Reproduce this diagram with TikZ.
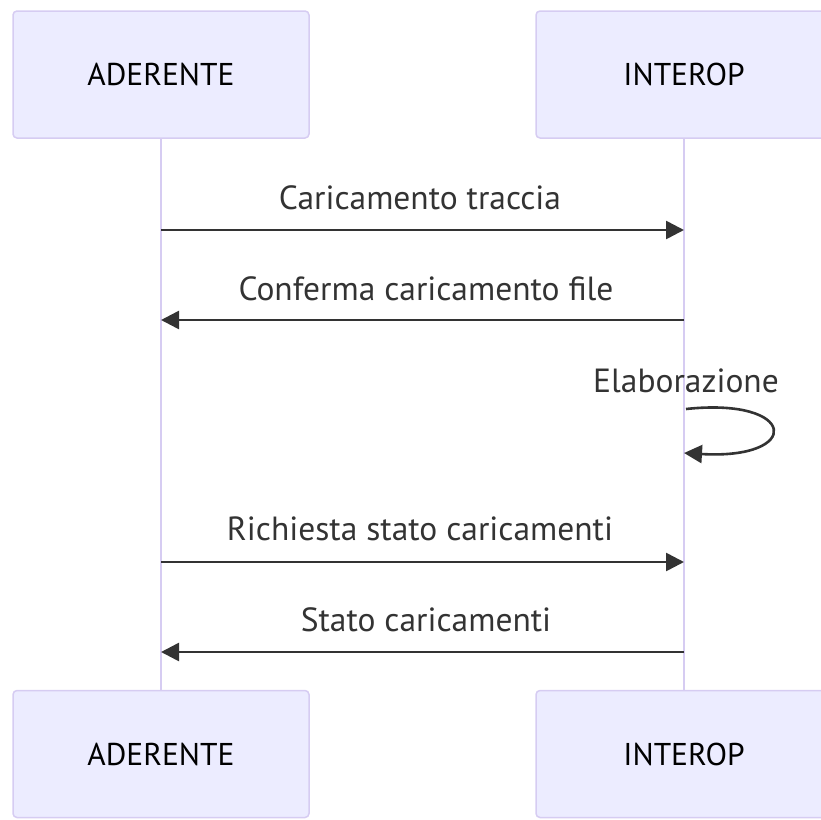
\documentclass[tikz,border=0pt]{standalone}
\usepackage{fontspec}
\setmainfont{PT Sans}
\usetikzlibrary{arrows.meta}
\definecolor{actfill}{HTML}{ECECFF}
\definecolor{actline}{HTML}{D6CCF2}
\definecolor{msg}{HTML}{333333}
\begin{document}
\begin{tikzpicture}[x=1pt,y=-1pt,
  actor/.style={draw=actline,line width=1.5pt,fill=actfill,rounded corners=4pt,minimum width=296pt,minimum height=127pt,font=\fontsize{31.5}{36}\selectfont,text=black,inner sep=0pt},
  lifeline/.style={draw=actline,line width=2.5pt},
  msgline/.style={draw=msg,line width=2.6pt,-{Triangle[length=18pt,width=18pt]}},
  msglabel/.style={font=\fontsize{33.5}{38}\selectfont,text=msg,inner sep=0pt}]
\useasboundingbox (0,0) rectangle (821,819);
\begin{scope}
\clip (0,0) rectangle (821,819);
% lifelines
\coordinate (at) at (161,138);
\coordinate (ab) at (161,691);
\coordinate (it) at (684,138);
\coordinate (ib) at (684,691);
\draw[lifeline] (at) -- (ab);
\draw[lifeline] (it) -- (ib);
% actors
\node[actor] (a1) at (161,74.5) {ADERENTE};
\node[actor] (i1) at (684,74.5) {INTEROP};
\node[actor] (a2) at (161,754) {ADERENTE};
\node[actor] (i2) at (684,754) {INTEROP};
% messages
\coordinate (m1a) at (161,230); \coordinate (m1b) at (684,230);
\draw[msgline] (m1a) -- (m1b);
\node[msglabel] (l1) at (420,198) {Caricamento traccia};
\coordinate (m2a) at (161,320); \coordinate (m2b) at (684,320);
\draw[msgline] (m2b) -- (m2a);
\node[msglabel] (l2) at (426,289) {Conferma caricamento file};
\node[msglabel] (l3) at (686,381) {Elaborazione};
\coordinate (s1) at (686,409); \coordinate (s2) at (684,453);
\draw[msgline] (s1) .. controls (798,397) and (803,460) .. (s2);
\coordinate (m4a) at (161,562); \coordinate (m4b) at (684,562);
\draw[msgline] (m4a) -- (m4b);
\node[msglabel] (l4) at (420,529) {Richiesta stato caricamenti};
\coordinate (m5a) at (161,652); \coordinate (m5b) at (684,652);
\draw[msgline] (m5b) -- (m5a);
\node[msglabel] (l5) at (426,620) {Stato caricamenti};
\end{scope}
\end{tikzpicture}
\end{document}
